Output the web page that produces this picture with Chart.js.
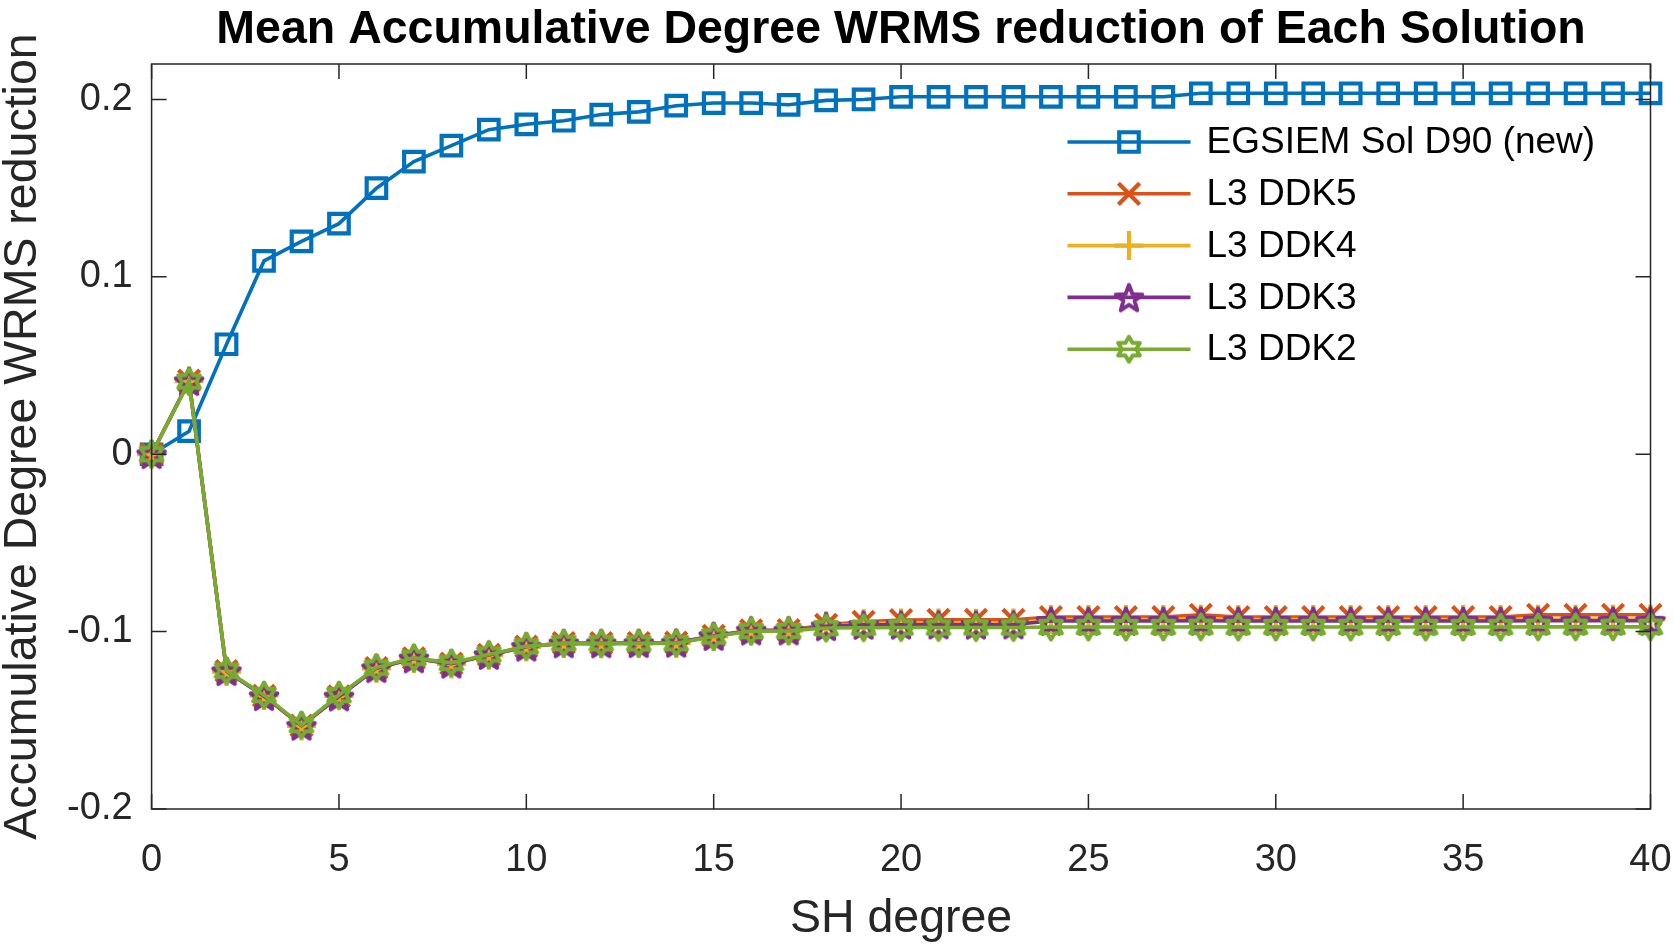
<!DOCTYPE html>
<html>
<head>
<meta charset="utf-8">
<title>Mean Accumulative Degree WRMS reduction of Each Solution</title>
<script src="https://cdn.jsdelivr.net/npm/chart.js@4.4.1/dist/chart.umd.min.js"></script>
<style>
body { margin: 0; background: #fff; }
#chart { display: block; }
</style>
</head>
<body>
<canvas id="chart" width="1674" height="944"></canvas>
<script>
var degrees = [0, 1, 2, 3, 4, 5, 6, 7, 8, 9, 10, 11, 12, 13, 14, 15, 16, 17, 18, 19, 20,
	21, 22, 23, 24, 25, 26, 27, 28, 29, 30, 31, 32, 33, 34, 35, 36, 37, 38, 39, 40];

var seriesNames = ['EGSIEM Sol D90 (new)', 'L3 DDK5', 'L3 DDK4', 'L3 DDK3', 'L3 DDK2'];

var egsiemD90 = [0, 0.013, 0.062, 0.109, 0.120, 0.130, 0.150, 0.165, 0.174, 0.183, 0.186,
	0.188, 0.1915, 0.193, 0.1965, 0.198, 0.198, 0.197, 0.1995, 0.200, 0.2015,
	0.2015, 0.2015, 0.2015, 0.2015, 0.2015, 0.2015, 0.2015, 0.2035, 0.2035, 0.2035,
	0.2035, 0.2035, 0.2035, 0.2035, 0.2035, 0.2035, 0.2035, 0.2035, 0.2035, 0.2035];

var ddk5 = [0, 0.0415, -0.1222, -0.1362, -0.1530, -0.1365, -0.1205, -0.1150, -0.1180, -0.1131, -0.1084,
	-0.1064, -0.1065, -0.1064, -0.1062, -0.1024, -0.0993, -0.0992, -0.0962, -0.0945, -0.0935,
	-0.0934, -0.0934, -0.0934, -0.0918, -0.0918, -0.0918, -0.0918, -0.0905, -0.0918, -0.0918,
	-0.0918, -0.0918, -0.0918, -0.0918, -0.0918, -0.0918, -0.0905, -0.0905, -0.0905, -0.0905];

var ddk4 = [0, 0.0413, -0.1225, -0.1360, -0.1532, -0.1362, -0.1207, -0.1152, -0.1182, -0.1133, -0.1086,
	-0.1067, -0.1068, -0.1067, -0.1065, -0.1027, -0.0996, -0.0995, -0.0968, -0.0955, -0.0952,
	-0.0952, -0.0953, -0.0952, -0.0932, -0.0932, -0.0932, -0.0932, -0.0930, -0.0932, -0.0932,
	-0.0932, -0.0932, -0.0932, -0.0932, -0.0932, -0.0932, -0.0930, -0.0930, -0.0930, -0.0930];

var ddk3 = [0, 0.0412, -0.1223, -0.1364, -0.1531, -0.1366, -0.1206, -0.1151, -0.1181, -0.1132, -0.1085,
	-0.1066, -0.1066, -0.1065, -0.1063, -0.1025, -0.0994, -0.0994, -0.0970, -0.0962, -0.0961,
	-0.0960, -0.0961, -0.0960, -0.0940, -0.0940, -0.0940, -0.0940, -0.0939, -0.0940, -0.0940,
	-0.0940, -0.0940, -0.0940, -0.0940, -0.0940, -0.0940, -0.0939, -0.0939, -0.0939, -0.0939];

var ddk2 = [0, 0.0410, -0.1220, -0.1358, -0.1527, -0.1358, -0.1203, -0.1148, -0.1176, -0.1129, -0.1083,
	-0.1065, -0.1066, -0.1066, -0.1065, -0.1028, -0.0997, -0.0996, -0.0980, -0.0978, -0.0977,
	-0.0977, -0.0977, -0.0977, -0.0974, -0.0974, -0.0974, -0.0974, -0.0973, -0.0974, -0.0974,
	-0.0974, -0.0974, -0.0974, -0.0974, -0.0974, -0.0974, -0.0973, -0.0973, -0.0973, -0.0973];

var xTicks = [0, 5, 10, 15, 20, 25, 30, 35, 40];
var xTickLabels = ['0', '5', '10', '15', '20', '25', '30', '35', '40'];
var yTicks = [-0.2, -0.1, 0, 0.1, 0.2];
var yTickLabels = ['-0.2', '-0.1', '0', '0.1', '0.2'];

var colours = ['#0072BD', '#D95319', '#EDB120', '#7E2F8E', '#77AC30'];
var axisColour = '#262626';
var fontName = "'Liberation Sans', Arial, Helvetica, sans-serif";

// outline star marker (matlab pentagram / hexagram)
var starCanvas = function(points, inner, outer, colour) {
	var size = 44;
	var c = document.createElement('canvas');
	c.width = size;
	c.height = size;
	var g = c.getContext('2d');
	g.strokeStyle = colour;
	g.lineWidth = 4;
	g.lineJoin = 'round';
	g.beginPath();
	for (var i = 0; i < points * 2; i++) {
		var r = (i % 2 === 0) ? outer : outer * inner;
		var a = -Math.PI / 2 + i * Math.PI / points;
		var px = size / 2 + r * Math.cos(a);
		var py = size / 2 + r * Math.sin(a) + (points === 5 ? 1.5 : 0);
		if (i === 0) {
			g.moveTo(px, py);
		} else {
			g.lineTo(px, py);
		}
	}
	g.closePath();
	g.stroke();
	return c;
};

var pentagram = starCanvas(5, 0.42, 14, colours[3]);
var hexagram = starCanvas(6, 0.577, 12.5, colours[4]);

var pointStyles = ['rect', 'crossRot', 'cross', pentagram, hexagram];
var pointSizes = [13.8, 15, 14.5, 14, 12];
var allValues = [egsiemD90, ddk5, ddk4, ddk3, ddk2];

var datasets = [];
for (var s = 0; s < allValues.length; s++) {
	var pts = [];
	for (var i = 0; i < degrees.length; i++) {
		pts.push({ x: degrees[i], y: allValues[s][i] });
	}
	datasets.push({
		label: seriesNames[s],
		data: pts,
		borderColor: colours[s],
		borderWidth: 3.6,
		backgroundColor: 'transparent',
		pointStyle: pointStyles[s],
		pointRadius: pointSizes[s],
		pointBorderWidth: 4.2,
		pointBorderColor: colours[s],
		pointBackgroundColor: 'rgba(0,0,0,0)',
		tension: 0,
		clip: false,
		order: allValues.length - s
	});
}

// box round the axes with inward ticks on all four sides
var boxPlugin = {
	id: 'matlabBox',
	afterDraw: function(chart) {
		var ctx = chart.ctx;
		var a = chart.chartArea;
		var xs = chart.scales.x;
		var ys = chart.scales.y;
		var len = 15;
		ctx.save();
		ctx.strokeStyle = axisColour;
		ctx.lineWidth = 1.5;
		ctx.strokeRect(a.left, a.top, a.right - a.left, a.bottom - a.top);
		ctx.beginPath();
		xs.ticks.forEach(function(t) {
			var px = xs.getPixelForValue(t.value);
			ctx.moveTo(px, a.bottom);
			ctx.lineTo(px, a.bottom - len);
			ctx.moveTo(px, a.top);
			ctx.lineTo(px, a.top + len);
		});
		ys.ticks.forEach(function(t) {
			var py = ys.getPixelForValue(t.value);
			ctx.moveTo(a.left, py);
			ctx.lineTo(a.left + len, py);
			ctx.moveTo(a.right, py);
			ctx.lineTo(a.right - len, py);
		});
		ctx.stroke();
		ctx.restore();
	}
};

// legend with a line through the marker, no frame
var legendPlugin = {
	id: 'lineLegend',
	afterDraw: function(chart) {
		var ctx = chart.ctx;
		var a = chart.chartArea;
		var x0 = a.right - 583;
		var x1 = a.right - 460;
		var textX = a.right - 444;
		var y0 = a.top + 78;
		var step = 51.8;
		ctx.save();
		ctx.font = '37px ' + fontName;
		ctx.textBaseline = 'middle';
		ctx.textAlign = 'left';
		for (var k = 0; k < chart.data.datasets.length; k++) {
			var ds = chart.data.datasets[k];
			var y = y0 + k * step;
			ctx.strokeStyle = ds.borderColor;
			ctx.lineWidth = 3.6;
			ctx.beginPath();
			ctx.moveTo(x0, y);
			ctx.lineTo(x1, y);
			ctx.stroke();
			ctx.fillStyle = 'rgba(0,0,0,0)';
			ctx.lineWidth = 4.2;
			Chart.helpers.drawPoint(ctx, {
				pointStyle: ds.pointStyle,
				radius: ds.pointRadius,
				borderWidth: 4.2,
				rotation: 0
			}, (x0 + x1) / 2, y);
			ctx.fillStyle = '#000';
			ctx.fillText(ds.label, textX, y + 1);
		}
		ctx.restore();
	}
};

var noSidePadding = function(scale) {
	scale.paddingLeft = 0;
	scale.paddingRight = 0;
};

Chart.defaults.font.family = fontName;
Chart.defaults.color = axisColour;

var config = {
	type: 'line',
	data: { datasets: datasets },
	plugins: [boxPlugin, legendPlugin],
	options: {
		responsive: false,
		animation: false,
		events: [],
		layout: { padding: { left: 0, right: 23.5, top: 0, bottom: 0 } },
		plugins: {
			legend: { display: false },
			tooltip: { enabled: false }
		},
		scales: {
			x: {
				type: 'linear',
				position: 'bottom',
				min: 0,
				max: 40,
				afterBuildTicks: function(scale) {
					scale.ticks = xTicks.map(function(v) { return { value: v }; });
				},
				afterFit: function(scale) {
					scale.height = 135;
					noSidePadding(scale);
				},
				ticks: {
					padding: 29,
					maxRotation: 0,
					font: { size: 38 },
					color: axisColour,
					callback: function(value, index) { return xTickLabels[index]; }
				},
				grid: { display: false, drawTicks: false },
				border: { display: false },
				title: {
					display: true,
					text: 'SH degree',
					color: axisColour,
					font: { size: 46.5, lineHeight: 1 },
					padding: { top: 0, bottom: 2 }
				}
			},
			// top axis only carries the chart title, centred over the plot box
			titleAxis: {
				type: 'linear',
				position: 'top',
				min: 0,
				max: 40,
				afterFit: function(scale) {
					scale.height = 64;
					noSidePadding(scale);
				},
				ticks: { display: false },
				grid: { display: false, drawTicks: false },
				border: { display: false },
				title: {
					display: true,
					text: 'Mean Accumulative Degree WRMS reduction of Each Solution',
					color: '#000',
					font: { size: 46.5, weight: 'bold', lineHeight: 1 },
					padding: { top: 7, bottom: 0 }
				}
			},
			y: {
				type: 'linear',
				min: -0.2,
				max: 0.22,
				afterBuildTicks: function(scale) {
					scale.ticks = yTicks.map(function(v) { return { value: v }; });
				},
				afterFit: function(scale) { scale.width = 151.6; },
				ticks: {
					padding: 19,
					font: { size: 38 },
					color: axisColour,
					callback: function(value, index) { return yTickLabels[index]; }
				},
				grid: { display: false, drawTicks: false },
				border: { display: false },
				title: {
					display: true,
					text: 'Accumulative Degree WRMS reduction',
					color: axisColour,
					font: { size: 46.5, lineHeight: 1 },
					padding: { top: 0, bottom: 0 }
				}
			}
		}
	}
};

var ctx = document.getElementById('chart').getContext('2d');
window.wrmsChart = new Chart(ctx, config);
</script>
</body>
</html>
